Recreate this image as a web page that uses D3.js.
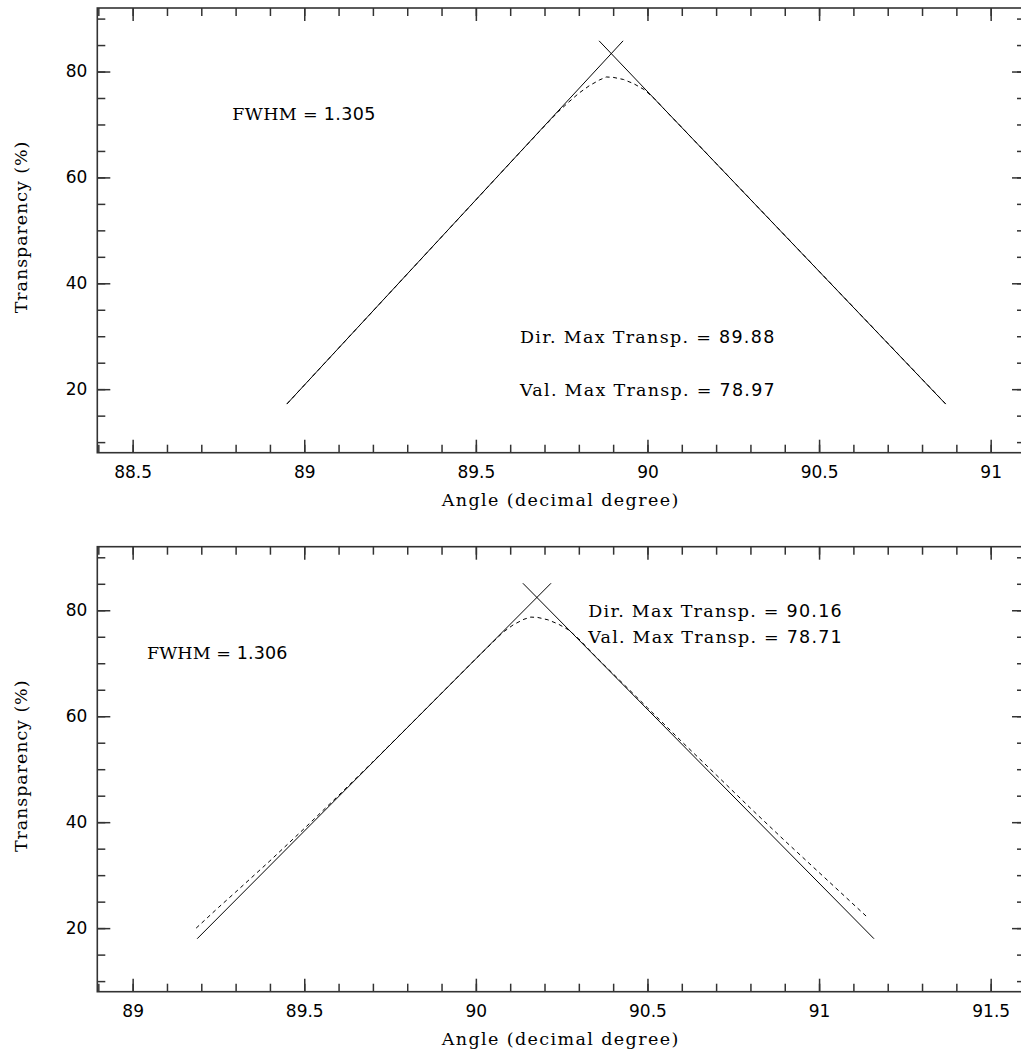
<!DOCTYPE html>
<html>
<head>
<meta charset="utf-8">
<script src="https://cdn.jsdelivr.net/npm/d3@7"></script>
<style>
  body { margin: 0; background: #fff; }
  svg text { font-family: "DejaVu Serif", serif; fill: #000; white-space: pre; }
  .num, .tick text { font-family: "DejaVu Sans", sans-serif; }
</style>
</head>
<body>
<svg id="chart" width="1021" height="1053"></svg>
<script>
// ---- Tick labels ----
const yTickValues = [20, 40, 60, 80];
const topXTickValues = [88.5, 89, 89.5, 90, 90.5, 91];
const bottomXTickValues = [89, 89.5, 90, 90.5, 91, 91.5];

// ---- Upper panel: linear fits on both flanks (solid) and measured profile (dashed) ----
const topLeftFitX = [88.949, 89.929];
const topLeftFitY = [17.18, 85.8];
const topRightFitX = [89.859, 90.869];
const topRightFitY = [85.8, 17.18];
const topProfileX = [88.95, 89.0, 89.1, 89.2, 89.3, 89.4, 89.5, 89.6, 89.7, 89.74, 89.77, 89.8, 89.83, 89.86,
                     89.88, 89.9, 89.93, 89.96, 89.99, 90.02, 90.05, 90.1, 90.2, 90.3, 90.4, 90.5, 90.6, 90.7, 90.8, 90.87];
const topProfileY = [17.25, 20.75, 27.75, 34.75, 41.75, 48.75, 55.75, 62.75, 69.7, 72.4, 74.2, 75.9, 77.3, 78.4,
                     78.97, 78.9, 78.5, 77.7, 76.6, 74.9, 72.8, 69.44, 62.65, 55.86, 49.07, 42.28, 35.49, 28.7, 21.9, 17.15];
const topFWHM = "1.305";
const topDirMax = "89.88";
const topValMax = "78.97";

// ---- Lower panel ----
const botLeftFitX = [89.188, 90.219];
const botLeftFitY = [18.0, 85.1];
const botRightFitX = [90.137, 91.16];
const botRightFitY = [85.1, 18.0];
const botProfileX = [89.185, 89.25, 89.3, 89.4, 89.5, 89.6, 89.7, 89.8, 89.9, 90.0, 90.05, 90.08, 90.11, 90.14,
                     90.16, 90.18, 90.21, 90.24, 90.27, 90.3, 90.35, 90.4, 90.5, 90.6, 90.7, 90.8, 90.9, 91.0, 91.14];
const botProfileY = [20.0, 23.9, 26.8, 32.7, 38.8, 45.05, 51.4, 57.85, 64.35, 70.85, 74.0, 75.9, 77.3, 78.3,
                     78.71, 78.65, 78.2, 77.4, 76.3, 74.6, 71.2, 68.0, 61.6, 55.2, 48.95, 42.65, 36.5, 30.5, 22.1];
const botFWHM = "1.306";
const botDirMax = "90.16";
const botValMax = "78.71";

const svg = d3.select("#chart");

function drawPanel(opts) {
  const { left, right, top, bottom, xDomain, xTicks } = opts;
  const x = d3.scaleLinear().domain(xDomain).range([left, right]);
  const y = d3.scaleLinear().domain([8, 92]).range([bottom, top]);
  const g = svg.append("g");

  const xMinor = d3.range(Math.ceil(xDomain[0] * 10), Math.floor(xDomain[1] * 10) + 1).map(d => d / 10);
  const yMinor = d3.range(10, 91, 5);

  const axisStyle = sel => {
    sel.select(".domain").remove();
    sel.selectAll(".tick line").attr("stroke", "#333").attr("stroke-width", 1.5);
    sel.selectAll(".tick text").attr("font-size", 17).attr("fill", "#000");
  };

  // bottom axis: labelled majors + minors, ticks pointing inward
  g.append("g").attr("transform", `translate(0,${bottom})`)
    .call(d3.axisBottom(x).tickValues(xMinor).tickSizeInner(-8).tickSizeOuter(0).tickFormat(""))
    .call(axisStyle);
  g.append("g").attr("transform", `translate(0,${bottom})`)
    .call(d3.axisBottom(x).tickValues(xTicks).tickSizeInner(-13).tickSizeOuter(0).tickPadding(13.4).tickFormat(d3.format("")))
    .call(axisStyle);
  // top axis: ticks only
  g.append("g").attr("transform", `translate(0,${top})`)
    .call(d3.axisTop(x).tickValues(xMinor).tickSizeInner(-8).tickSizeOuter(0).tickFormat(""))
    .call(axisStyle);
  g.append("g").attr("transform", `translate(0,${top})`)
    .call(d3.axisTop(x).tickValues(xTicks).tickSizeInner(-13).tickSizeOuter(0).tickFormat(""))
    .call(axisStyle);
  // left axis
  g.append("g").attr("transform", `translate(${left},0)`)
    .call(d3.axisLeft(y).tickValues(yMinor).tickSizeInner(-8).tickSizeOuter(0).tickFormat(""))
    .call(axisStyle);
  g.append("g").attr("transform", `translate(${left},0)`)
    .call(d3.axisLeft(y).tickValues(yTickValues).tickSizeInner(-13).tickSizeOuter(0).tickPadding(10).tickFormat(d3.format("")))
    .call(axisStyle);
  // right axis
  g.append("g").attr("transform", `translate(${right},0)`)
    .call(d3.axisRight(y).tickValues(yMinor).tickSizeInner(-8).tickSizeOuter(0).tickFormat(""))
    .call(axisStyle);
  g.append("g").attr("transform", `translate(${right},0)`)
    .call(d3.axisRight(y).tickValues(yTickValues).tickSizeInner(-13).tickSizeOuter(0).tickFormat(""))
    .call(axisStyle);

  // frame
  g.append("rect")
    .attr("x", left).attr("y", top)
    .attr("width", right - left).attr("height", bottom - top)
    .attr("fill", "none").attr("stroke", "#333").attr("stroke-width", 1.6);

  const line = d3.line().x(d => x(d[0])).y(d => y(d[1]));
  const pairs = (xs, ys) => xs.map((v, i) => [v, ys[i]]);

  // measured profile (dashed)
  g.append("path")
    .datum(pairs(opts.profileX, opts.profileY))
    .attr("d", line)
    .attr("fill", "none").attr("stroke", "#000").attr("stroke-width", 1)
    .attr("stroke-dasharray", "4,3.5");

  // flank fits (solid)
  [[opts.leftFitX, opts.leftFitY], [opts.rightFitX, opts.rightFitY]].forEach(([xs, ys]) => {
    g.append("path")
      .datum(pairs(xs, ys))
      .attr("d", line)
      .attr("fill", "none").attr("stroke", "#000").attr("stroke-width", 1);
  });

  // axis titles (wide, evenly spaced lettering)
  g.append("text")
    .attr("x", 441.7).attr("y", bottom + 53.3)
    .attr("font-size", 17.5)
    .attr("textLength", 236.6).attr("lengthAdjust", "spacing")
    .text("Angle (decimal degree)");
  g.append("text")
    .attr("transform", `translate(26.7,${(top + bottom) / 2 - 2.9 + 85.8}) rotate(-90)`)
    .attr("font-size", 17.5)
    .attr("textLength", 171.6).attr("lengthAdjust", "spacing")
    .text("Transparency (%)");

  // annotations
  const note = (pos, label, value) => {
    const t = g.append("text").attr("x", pos[0]).attr("y", pos[1]).attr("font-size", 17.5)
      .attr("textLength", pos[2]).attr("lengthAdjust", "spacing");
    t.append("tspan").text(label + " = ");
    t.append("tspan").attr("class", "num").text(value);
  };
  note(opts.fwhmPos, "FWHM", opts.fwhm);
  note(opts.dirPos, "Dir. Max Transp.", opts.dirMax);
  note(opts.valPos, "Val. Max Transp.", opts.valMax);
}

drawPanel({
  left: 97.3, right: 1025, top: 8, bottom: 452.7,
  xDomain: [88.397, 91.1], xTicks: topXTickValues,
  leftFitX: topLeftFitX, leftFitY: topLeftFitY,
  rightFitX: topRightFitX, rightFitY: topRightFitY,
  profileX: topProfileX, profileY: topProfileY,
  fwhm: topFWHM, dirMax: topDirMax, valMax: topValMax,
  fwhmPos: [232.3, 120, 143], dirPos: [520, 342.7, 254.3], valPos: [520, 395.7, 254.7]
});

drawPanel({
  left: 97.3, right: 1025, top: 546.7, bottom: 991.7,
  xDomain: [88.897, 91.6], xTicks: bottomXTickValues,
  leftFitX: botLeftFitX, leftFitY: botLeftFitY,
  rightFitX: botRightFitX, rightFitY: botRightFitY,
  profileX: botProfileX, profileY: botProfileY,
  fwhm: botFWHM, dirMax: botDirMax, valMax: botValMax,
  fwhmPos: [147, 659.3, 140.3], dirPos: [588.3, 616.7, 253.4], valPos: [588.3, 642.7, 253.4]
});
</script>
</body>
</html>
